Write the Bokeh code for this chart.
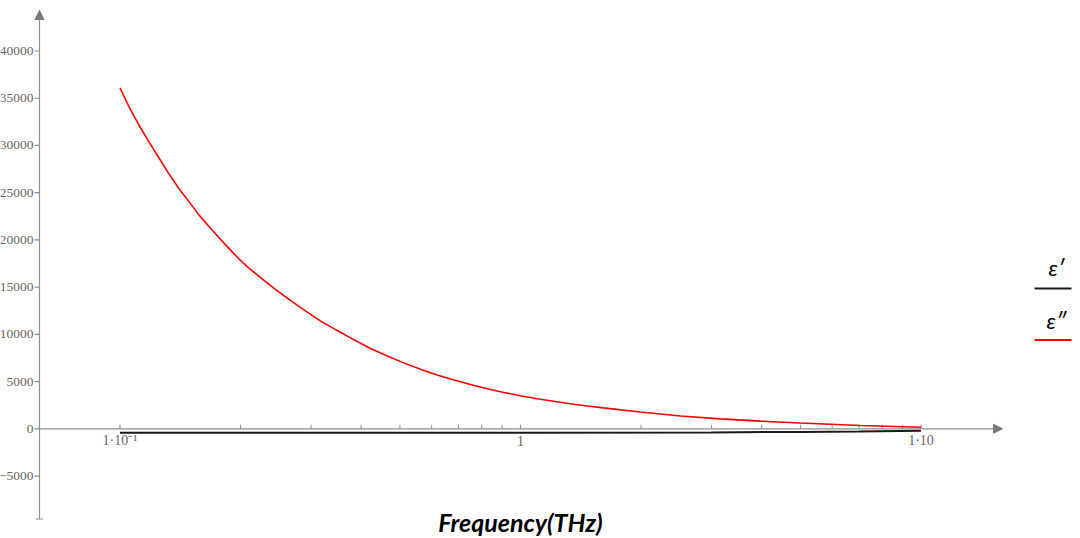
import numpy as np
from bokeh.plotting import figure
from bokeh.models import Range1d, Arrow, NormalHead
from bokeh.core.properties import value
from bokeh.embed import file_html
from bokeh.resources import INLINE

# ---------------- data ----------------
freq_thz = [0.1, 0.105, 0.111, 0.118, 0.125, 0.132, 0.140, 0.149, 0.157, 0.167,
            0.177, 0.187, 0.198, 0.210, 0.226, 0.242, 0.262, 0.288, 0.317, 0.349,
            0.384, 0.422, 0.465, 0.511, 0.563, 0.619, 0.682, 0.750, 0.826, 0.909,
            1.0, 1.10, 1.21, 1.33, 1.47, 1.61, 1.99, 2.51, 3.16, 3.97, 5.0, 7.06, 10.0]
eps2 = [36100, 34200, 32300, 30400, 28700, 27100, 25500, 24000, 22700, 21400,
        20200, 19100, 18000, 17000, 15900, 14900, 13800, 12600, 11400, 10400,
        9420, 8500, 7700, 6980, 6300, 5700, 5160, 4680, 4240, 3850,
        3500, 3180, 2910, 2650, 2420, 2220, 1780, 1360, 1050, 810, 610, 350, 169]

freq_eps1 = [0.1, 1.0, 3.0, 5.0, 7.0, 10.0]
eps1 = [-420, -410, -380, -330, -280, -200]

y_ticks = [-5000, 0, 5000, 10000, 15000, 20000, 25000, 30000, 35000, 40000]
y_tick_labels = ["\u22125000", "0", "5000", "10000", "15000", "20000",
                 "25000", "30000", "35000", "40000"]
x_major = [0.1, 1.0, 10.0]
x_major_labels = ["1\u00b710\u207b\u00b9", "1", "1\u00b710"]
x_minor = [0.2, 0.3, 0.4, 0.5, 0.6, 0.7, 0.8, 0.9, 2, 3, 4, 5, 6, 7, 8, 9]

series_labels = ["\u03b5\u2032", "\u03b5\u2033"]
series_colors = ["#1a1a1a", "#ff0000"]
x_title = "Frequency(THz)"

# ---------------- layout / geometry ----------------
W, H = 1080, 538
PAGE = 0
PX_PER_DECADE = 400.5
X_ONE_PX = 520.0        # page px of f = 1
Y_ZERO_PX = 428.3       # page px of value 0
PX_PER_UNIT = 9.445e-3  # page px per unit of y


def px_to_x(px):
    return 10 ** ((px - X_ONE_PX) / PX_PER_DECADE)


def px_to_y(py):
    return (Y_ZERO_PX - py) / PX_PER_UNIT


x_range = Range1d(px_to_x(PAGE), px_to_x(PAGE + W))
y_range = Range1d(px_to_y(PAGE + H), px_to_y(PAGE))

p = figure(width=W, height=H, x_axis_type="log", x_range=x_range, y_range=y_range,
           x_axis_location=None, y_axis_location=None, toolbar_location=None,
           output_backend="svg", min_border=0, outline_line_color=None,
           background_fill_color="white", border_fill_color="white")
p.grid.visible = False

AX = "#8f8f8f"
LBL = "#666666"

# axis extents
x_cross = px_to_x(39)       # where the y axis sits
x_tip = px_to_x(1002)
y_top = px_to_y(10)
y_bot = px_to_y(518.5)

# x axis with arrow
p.add_layout(Arrow(end=NormalHead(size=9, fill_color="#7a7a7a", line_color="#7a7a7a"),
                   x_start=x_cross, y_start=0, x_end=x_tip, y_end=0,
                   line_color=AX, line_width=1.2))
# y axis with arrow
p.add_layout(Arrow(end=NormalHead(size=9, fill_color="#7a7a7a", line_color="#7a7a7a"),
                   x_start=x_cross, y_start=y_bot, x_end=x_cross, y_end=y_top,
                   line_color=AX, line_width=1.2))
p.scatter(x=[x_cross], y=[y_bot], marker="dash", size=7, line_color=AX, line_width=1.2)

# ticks
p.ray(x=[x_cross] * len(y_ticks), y=y_ticks, length=5, length_units="screen",
      angle=np.pi, line_color=AX, line_width=1.2)
p.ray(x=x_major, y=[0] * len(x_major), length=4, length_units="screen",
      angle=np.pi / 2, line_color=AX, line_width=1.2)
p.ray(x=x_minor, y=[0] * len(x_minor), length=4, length_units="screen",
      angle=np.pi / 2, line_color=AX, line_width=1.0)

# tick labels
p.text(x=[x_cross] * len(y_ticks), y=y_ticks, text=y_tick_labels,
       text_align="right", text_baseline="middle", x_offset=-6,
       text_font=value("Liberation Serif"), text_font_size="13.5px", text_color=LBL)
p.text(x=x_major, y=[0] * len(x_major), text=x_major_labels,
       text_align="center", text_baseline="middle", y_offset=12,
       text_font=value("Liberation Serif"), text_font_size="14px", text_color=LBL)

# curves
p.line(freq_eps1, eps1, line_color=series_colors[0], line_width=2)
p.line(freq_thz, eps2, line_color=series_colors[1], line_width=1.6)

# x title
p.text(x=[px_to_x(520)], y=[px_to_y(521)], text=[x_title], text_align="center",
       text_baseline="middle", text_font=value("Lato"), text_font_style="bold italic",
       text_font_size="25px", text_color="black")

# legend (label above its line sample)
leg_text_y = [267, 320]
leg_line_y = [288, 339.5]
for lab, col, ty, ly in zip(series_labels, series_colors, leg_text_y, leg_line_y):
    p.text(x=[px_to_x(1056)], y=[px_to_y(ty)], text=[lab], text_align="center",
           text_baseline="middle", text_font=value("Lato"), text_font_style="italic",
           text_font_size="22px", text_color="black")
    p.line([px_to_x(1034), px_to_x(1071)], [px_to_y(ly)] * 2, line_color=col, line_width=2)

open("out.html", "w").write(file_html(p, INLINE))
